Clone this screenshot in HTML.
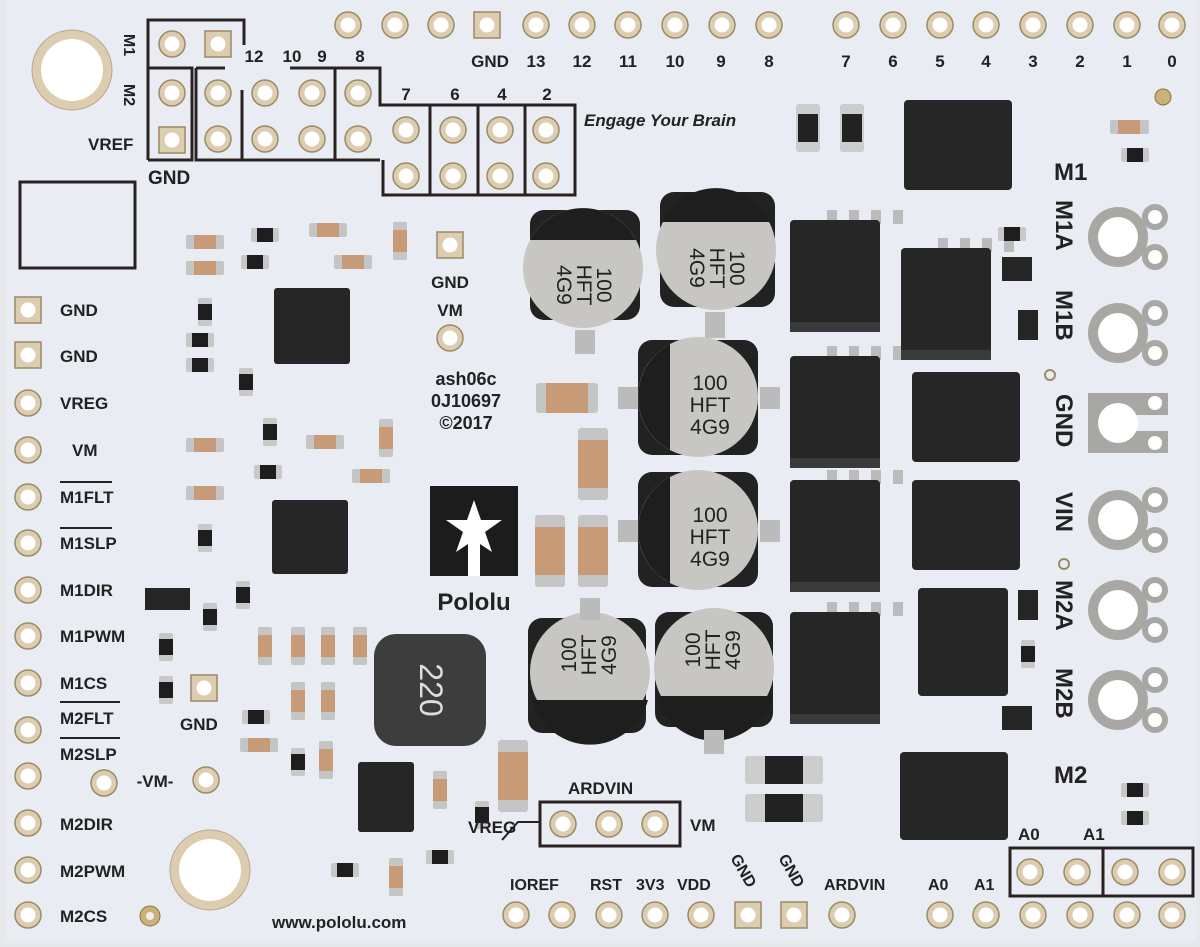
<!DOCTYPE html>
<html><head><meta charset="utf-8"><style>
html,body{margin:0;padding:0;background:#e6e8eb}
svg{display:block}
text{font-family:"Liberation Sans",sans-serif;font-weight:bold;fill:#222}
.ct{font-weight:normal;font-size:21px;text-anchor:middle;fill:#222}
</style></head><body>
<svg width="1200" height="947" viewBox="0 0 1200 947" xmlns="http://www.w3.org/2000/svg">
<defs>
<g id="pin"><circle r="13" fill="#dccdb0" stroke="#9c8a66" stroke-width="1.5"/><circle r="7.5" fill="#fff"/></g>
<g id="spin"><rect x="-13" y="-13" width="26" height="26" fill="#dccdb0" stroke="#9c8a66" stroke-width="1.5"/><circle r="7.5" fill="#fff"/></g>
<g id="cap"><rect x="-4" y="-7" width="38" height="14" rx="2" fill="#c5c5c5"/><rect x="4" y="-7" width="22" height="14" fill="#c79a78"/></g>
<g id="capv"><rect x="-7" y="-4" width="14" height="38" rx="2" fill="#c5c5c5"/><rect x="-7" y="4" width="14" height="22" fill="#c79a78"/></g>
<g id="res"><rect x="-14" y="-7" width="28" height="14" rx="2" fill="#c8c8c8"/><rect x="-8" y="-7" width="16" height="14" fill="#1e1e1e"/></g>
<g id="resv"><rect x="-7" y="-14" width="14" height="28" rx="2" fill="#c8c8c8"/><rect x="-7" y="-8" width="14" height="16" fill="#1e1e1e"/></g>
<g id="term"><circle cx="37" cy="-20" r="13" fill="#a9a7a3"/><circle cx="37" cy="20" r="13" fill="#a9a7a3"/><circle r="30" fill="#a9a7a3"/><circle cx="37" cy="-20" r="7" fill="#fff"/><circle cx="37" cy="20" r="7" fill="#fff"/><circle r="20" fill="#fff"/></g>
<g id="mos"><rect x="-8" y="-62" width="10" height="14" fill="#bbb"/><rect x="14" y="-62" width="10" height="14" fill="#bbb"/><rect x="36" y="-62" width="10" height="14" fill="#bbb"/><rect x="58" y="-62" width="10" height="14" fill="#bbb"/><rect x="-45" y="-52" width="90" height="108" rx="4" fill="#262626"/><rect x="-45" y="50" width="90" height="10" fill="#3a3a3a"/></g>
</defs>
<rect width="1200" height="947" fill="#e6e8eb"/>
<rect x="6" y="0" width="1190" height="940" fill="#e9edf3"/>

<circle cx="72" cy="70" r="40" fill="#dccdb0" stroke="#b8a88a"/><circle cx="72" cy="70" r="31" fill="#fff"/>
<circle cx="210" cy="870" r="40" fill="#dccdb0" stroke="#b8a88a"/><circle cx="210" cy="870" r="31" fill="#fff"/>

<g fill="none" stroke="#2a2222" stroke-width="3">
<path d="M148 160 V20 H244 V45"/>
<path d="M148 68 H192 V160 H148"/>
<path d="M196 68 H225 M196 68 V160 H380 M242 90 V160 M290 68 H380 V105 H575 V195 H383 V160 M335 68 V160"/>
<path d="M430 105 V195 M478 105 V195 M525 105 V195"/>
<rect x="20" y="182" width="115" height="86"/>
</g>
<g font-size="16"><text x="130" y="45" transform="rotate(90 130 45)" text-anchor="middle" dy="6">M1</text><text x="130" y="95" transform="rotate(90 130 95)" text-anchor="middle" dy="6">M2</text></g>
<text x="88" y="150" font-size="17">VREF</text>
<text x="148" y="184" font-size="19">GND</text>
<g font-size="17" text-anchor="middle"><text x="254" y="62">12</text><text x="292" y="62">10</text><text x="322" y="62">9</text><text x="360" y="62">8</text><text x="406" y="100">7</text><text x="455" y="100">6</text><text x="502" y="100">4</text><text x="547" y="100">2</text></g>
<text x="584" y="126" font-size="17" font-style="italic">Engage Your Brain</text>
<use href="#pin" x="172" y="44"/><use href="#spin" x="218" y="44"/>
<use href="#pin" x="172" y="93"/><use href="#spin" x="172" y="140"/>
<use href="#pin" x="218" y="93"/><use href="#pin" x="218" y="139"/>
<use href="#pin" x="265" y="93"/><use href="#pin" x="265" y="139"/>
<use href="#pin" x="312" y="93"/><use href="#pin" x="312" y="139"/>
<use href="#pin" x="358" y="93"/><use href="#pin" x="358" y="139"/>
<use href="#pin" x="406" y="130"/><use href="#pin" x="406" y="176"/>
<use href="#pin" x="453" y="130"/><use href="#pin" x="453" y="176"/>
<use href="#pin" x="500" y="130"/><use href="#pin" x="500" y="176"/>
<use href="#pin" x="546" y="130"/><use href="#pin" x="546" y="176"/>

<g>
<use href="#pin" x="348" y="25"/><use href="#pin" x="395" y="25"/><use href="#pin" x="441" y="25"/><use href="#spin" x="487" y="25"/><use href="#pin" x="536" y="25"/><use href="#pin" x="582" y="25"/><use href="#pin" x="628" y="25"/><use href="#pin" x="675" y="25"/><use href="#pin" x="722" y="25"/><use href="#pin" x="769" y="25"/>
<use href="#pin" x="846" y="25"/><use href="#pin" x="893" y="25"/><use href="#pin" x="940" y="25"/><use href="#pin" x="986" y="25"/><use href="#pin" x="1033" y="25"/><use href="#pin" x="1080" y="25"/><use href="#pin" x="1127" y="25"/><use href="#pin" x="1172" y="25"/>
</g>
<g font-size="17" text-anchor="middle"><text x="490" y="67">GND</text><text x="536" y="67">13</text><text x="582" y="67">12</text><text x="628" y="67">11</text><text x="675" y="67">10</text><text x="721" y="67">9</text><text x="769" y="67">8</text>
<text x="846" y="67">7</text><text x="893" y="67">6</text><text x="940" y="67">5</text><text x="986" y="67">4</text><text x="1033" y="67">3</text><text x="1080" y="67">2</text><text x="1127" y="67">1</text><text x="1172" y="67">0</text></g>

<use href="#spin" x="28" y="310"/><use href="#spin" x="28" y="355"/>
<use href="#pin" x="28" y="403"/><use href="#pin" x="28" y="450"/><use href="#pin" x="28" y="497"/><use href="#pin" x="28" y="543"/><use href="#pin" x="28" y="590"/><use href="#pin" x="28" y="636"/><use href="#pin" x="28" y="683"/><use href="#pin" x="28" y="730"/><use href="#pin" x="28" y="776"/><use href="#pin" x="28" y="823"/><use href="#pin" x="28" y="870"/><use href="#pin" x="28" y="915"/>
<g font-size="17"><text x="60" y="316">GND</text><text x="60" y="362">GND</text><text x="60" y="409">VREG</text><text x="72" y="456">VM</text><text x="60" y="503">M1FLT</text><text x="60" y="549">M1SLP</text><text x="60" y="596">M1DIR</text><text x="60" y="642">M1PWM</text><text x="60" y="689">M1CS</text><text x="60" y="724">M2FLT</text><text x="60" y="760">M2SLP</text><text x="60" y="830">M2DIR</text><text x="60" y="877">M2PWM</text><text x="60" y="922">M2CS</text></g>
<g stroke="#222" stroke-width="2"><line x1="60" y1="482" x2="112" y2="482"/><line x1="60" y1="528" x2="112" y2="528"/><line x1="60" y1="702" x2="120" y2="702"/><line x1="60" y1="738" x2="120" y2="738"/></g>
<circle cx="150" cy="916" r="10" fill="#c9b27a" stroke="#8a7340"/><circle cx="150" cy="916" r="4" fill="#eee"/>

<use href="#pin" x="104" y="783"/><use href="#pin" x="206" y="780"/>
<text x="155" y="787" font-size="17" text-anchor="middle">-VM-</text>
<use href="#spin" x="204" y="688"/><text x="180" y="730" font-size="17">GND</text>

<rect x="274" y="288" width="76" height="76" rx="3" fill="#262626"/>
<rect x="272" y="500" width="76" height="74" rx="3" fill="#262626"/>
<rect x="358" y="762" width="56" height="70" rx="3" fill="#262626"/>
<g>
<use href="#cap" x="190" y="242"/><use href="#cap" x="190" y="268"/><use href="#res" x="265" y="235"/><use href="#cap" x="313" y="230"/><use href="#res" x="255" y="262"/><use href="#cap" x="338" y="262"/><use href="#capv" x="400" y="226"/>
<use href="#resv" x="205" y="312"/><use href="#res" x="200" y="340"/><use href="#res" x="200" y="365"/><use href="#resv" x="246" y="382"/><use href="#cap" x="190" y="445"/><use href="#cap" x="310" y="442"/><use href="#capv" x="386" y="423"/><use href="#resv" x="270" y="432"/><use href="#res" x="268" y="472"/><use href="#cap" x="356" y="476"/><use href="#cap" x="190" y="493"/><use href="#resv" x="205" y="538"/><use href="#resv" x="243" y="595"/><use href="#resv" x="210" y="617"/><use href="#resv" x="166" y="647"/><use href="#resv" x="166" y="690"/>
<rect x="145" y="588" width="45" height="22" fill="#262626"/>
<use href="#capv" x="265" y="631"/><use href="#capv" x="298" y="631"/><use href="#capv" x="328" y="631"/><use href="#capv" x="360" y="631"/><use href="#capv" x="298" y="686"/><use href="#capv" x="328" y="686"/>
<use href="#res" x="256" y="717"/><use href="#cap" x="244" y="745"/><use href="#resv" x="298" y="762"/><use href="#capv" x="326" y="745"/><use href="#capv" x="440" y="775"/><use href="#resv" x="482" y="815"/><use href="#res" x="345" y="870"/><use href="#res" x="440" y="857"/><use href="#capv" x="396" y="862"/>
<rect x="498" y="740" width="30" height="72" rx="3" fill="#c5c5c5"/><rect x="498" y="752" width="30" height="48" fill="#c79a78"/>
<rect x="536" y="383" width="62" height="30" rx="3" fill="#c5c5c5"/><rect x="546" y="383" width="42" height="30" fill="#c79a78"/>
<rect x="578" y="428" width="30" height="72" rx="3" fill="#c5c5c5"/><rect x="578" y="440" width="30" height="48" fill="#c79a78"/>
<rect x="535" y="515" width="30" height="72" rx="3" fill="#c5c5c5"/><rect x="535" y="527" width="30" height="48" fill="#c79a78"/>
<rect x="578" y="515" width="30" height="72" rx="3" fill="#c5c5c5"/><rect x="578" y="527" width="30" height="48" fill="#c79a78"/>
</g>

<rect x="374" y="634" width="112" height="112" rx="22" fill="#3d3d3d"/>
<text x="430" y="700" font-size="32" text-anchor="middle" transform="rotate(90 430 690)" style="fill:#ddd;font-weight:normal">220</text>

<use href="#spin" x="450" y="245"/><text x="450" y="288" font-size="17" text-anchor="middle">GND</text>
<text x="450" y="316" font-size="17" text-anchor="middle">VM</text><use href="#pin" x="450" y="338"/>
<g font-size="18" text-anchor="middle"><text x="466" y="385">ash06c</text><text x="466" y="407">0J10697</text><text x="466" y="429">©2017</text></g>

<rect x="430" y="486" width="88" height="90" fill="#1c1c1c"/>
<polygon points="474,500 481,520 502,520 485,532 492,552 474,540 456,552 463,532 446,520 467,520" fill="#fff"/>
<rect x="468" y="540" width="12" height="36" fill="#fff"/>
<text x="474" y="610" font-size="24" text-anchor="middle">Pololu</text>

<g>
<rect x="530" y="210" width="110" height="110" rx="14" fill="#222"/><circle cx="583" cy="268" r="60" fill="#c8c6c2"/><path d="M530 240 A60 60 0 0 1 636 240 Z" fill="#1e1e1e"/><rect x="575" y="330" width="20" height="24" fill="#bbb"/>
<g transform="translate(585 285) rotate(90)"><text class="ct" y="-12">100</text><text class="ct" y="8">HFT</text><text class="ct" y="28">4G9</text></g>
<rect x="660" y="192" width="115" height="115" rx="14" fill="#222"/><circle cx="716" cy="250" r="60" fill="#c8c6c2"/><path d="M662 222 A60 60 0 0 1 770 222 Z" fill="#1e1e1e"/><rect x="705" y="312" width="20" height="26" fill="#bbb"/>
<g transform="translate(718 268) rotate(90)"><text class="ct" y="-12">100</text><text class="ct" y="8">HFT</text><text class="ct" y="28">4G9</text></g>
<rect x="638" y="340" width="120" height="115" rx="14" fill="#222"/><circle cx="698" cy="397" r="60" fill="#c8c6c2"/><path d="M670 344 A60 60 0 0 0 670 450 Z" fill="#1e1e1e"/><rect x="760" y="387" width="20" height="22" fill="#bbb"/><rect x="618" y="387" width="20" height="22" fill="#bbb"/>
<text x="710" y="390" class="ct">100</text><text x="710" y="412" class="ct">HFT</text><text x="710" y="434" class="ct">4G9</text>
<rect x="638" y="472" width="120" height="115" rx="14" fill="#222"/><circle cx="698" cy="530" r="60" fill="#c8c6c2"/><path d="M670 477 A60 60 0 0 0 670 583 Z" fill="#1e1e1e"/><rect x="760" y="520" width="20" height="22" fill="#bbb"/><rect x="618" y="520" width="20" height="22" fill="#bbb"/>
<text x="710" y="522" class="ct">100</text><text x="710" y="544" class="ct">HFT</text><text x="710" y="566" class="ct">4G9</text>
<rect x="528" y="618" width="118" height="115" rx="14" fill="#222"/><circle cx="590" cy="672" r="60" fill="#c8c6c2"/><path d="M532 700 A60 60 0 0 0 648 700 Z" fill="#1e1e1e"/><rect x="580" y="598" width="20" height="22" fill="#bbb"/>
<g transform="translate(588 655) rotate(-90)"><text class="ct" y="-12">100</text><text class="ct" y="8">HFT</text><text class="ct" y="28">4G9</text></g>
<rect x="655" y="612" width="118" height="115" rx="14" fill="#222"/><circle cx="714" cy="668" r="60" fill="#c8c6c2"/><path d="M656 696 A60 60 0 0 0 772 696 Z" fill="#1e1e1e"/><rect x="704" y="730" width="20" height="24" fill="#bbb"/>
<g transform="translate(712 650) rotate(-90)"><text class="ct" y="-12">100</text><text class="ct" y="8">HFT</text><text class="ct" y="28">4G9</text></g>
</g>

<use href="#mos" x="835" y="272"/><use href="#mos" x="835" y="408"/><use href="#mos" x="835" y="532"/><use href="#mos" x="835" y="664"/>
<use href="#mos" x="946" y="300"/>
<rect x="912" y="372" width="108" height="90" rx="4" fill="#262626"/>
<rect x="912" y="480" width="108" height="90" rx="4" fill="#262626"/>
<rect x="918" y="588" width="90" height="108" rx="4" fill="#262626"/>
<rect x="904" y="100" width="108" height="90" rx="4" fill="#262626"/>
<rect x="900" y="752" width="108" height="88" rx="4" fill="#262626"/>
<g>
<rect x="796" y="104" width="24" height="48" rx="3" fill="#ccc"/><rect x="798" y="114" width="20" height="28" fill="#222"/>
<rect x="840" y="104" width="24" height="48" rx="3" fill="#ccc"/><rect x="842" y="114" width="20" height="28" fill="#222"/>
<rect x="745" y="756" width="78" height="28" rx="3" fill="#ccc"/><rect x="765" y="756" width="38" height="28" fill="#222"/>
<rect x="745" y="794" width="78" height="28" rx="3" fill="#ccc"/><rect x="765" y="794" width="38" height="28" fill="#222"/>
<use href="#res" x="1012" y="234"/><rect x="1002" y="257" width="30" height="24" fill="#262626"/><rect x="1018" y="310" width="20" height="30" fill="#262626"/>
<rect x="1018" y="590" width="20" height="30" fill="#262626"/><use href="#resv" x="1028" y="654"/><rect x="1002" y="706" width="30" height="24" fill="#262626"/>
<use href="#res" x="1135" y="127"/><use href="#res" x="1135" y="155"/><use href="#cap" x="1114" y="127"/>
<use href="#res" x="1135" y="790"/><use href="#res" x="1135" y="818"/>
</g>
<circle cx="1163" cy="97" r="8" fill="#c9b27a" stroke="#8a7340"/>
<circle cx="1050" cy="375" r="5" fill="none" stroke="#9c8a66" stroke-width="2"/>
<circle cx="1064" cy="564" r="5" fill="none" stroke="#9c8a66" stroke-width="2"/>

<use href="#term" x="1118" y="237"/><use href="#term" x="1118" y="333"/>
<g transform="translate(1118 423)"><rect x="-30" y="-30" width="80" height="60" fill="#a9a7a3"/><rect x="12" y="-8" width="40" height="16" fill="#e9edf3"/><circle cx="37" cy="-20" r="7" fill="#fff"/><circle cx="37" cy="20" r="7" fill="#fff"/><circle r="20" fill="#fff"/></g>
<use href="#term" x="1118" y="520"/><use href="#term" x="1118" y="610"/><use href="#term" x="1118" y="700"/>
<g font-size="24"><text x="1054" y="180">M1</text><text x="1054" y="783">M2</text>
<text transform="translate(1056 200) rotate(90)">M1A</text><text transform="translate(1056 290) rotate(90)">M1B</text><text transform="translate(1056 394) rotate(90)">GND</text><text transform="translate(1056 492) rotate(90)">VIN</text><text transform="translate(1056 580) rotate(90)">M2A</text><text transform="translate(1056 668) rotate(90)">M2B</text></g>

<rect x="540" y="802" width="140" height="44" fill="none" stroke="#2a2222" stroke-width="3"/>
<use href="#pin" x="563" y="824"/><use href="#pin" x="609" y="824"/><use href="#pin" x="655" y="824"/>
<text x="568" y="794" font-size="17">ARDVIN</text><text x="690" y="831" font-size="17">VM</text>
<text x="468" y="833" font-size="17">VREG</text><path d="M502 840 L518 822 H540" stroke="#222" stroke-width="2" fill="none"/>

<path d="M1010 848 H1193 V896 H1010 Z M1103 848 V896" fill="none" stroke="#2a2222" stroke-width="3"/>
<use href="#pin" x="1030" y="872"/><use href="#pin" x="1077" y="872"/><use href="#pin" x="1125" y="872"/><use href="#pin" x="1172" y="872"/>
<text x="1018" y="840" font-size="17">A0</text><text x="1083" y="840" font-size="17">A1</text>

<use href="#pin" x="516" y="915"/><use href="#pin" x="562" y="915"/><use href="#pin" x="609" y="915"/><use href="#pin" x="655" y="915"/><use href="#pin" x="701" y="915"/><use href="#spin" x="748" y="915"/><use href="#spin" x="794" y="915"/><use href="#pin" x="842" y="915"/><use href="#pin" x="940" y="915"/><use href="#pin" x="986" y="915"/><use href="#pin" x="1033" y="915"/><use href="#pin" x="1080" y="915"/><use href="#pin" x="1127" y="915"/><use href="#pin" x="1172" y="915"/>
<g font-size="16"><text x="510" y="890">IOREF</text><text x="590" y="890">RST</text><text x="636" y="890">3V3</text><text x="677" y="890">VDD</text><text x="824" y="890">ARDVIN</text><text x="928" y="890">A0</text><text x="974" y="890">A1</text>
<text transform="translate(730 858) rotate(60)">GND</text><text transform="translate(778 858) rotate(60)">GND</text></g>
<text x="272" y="928" font-size="17">www.pololu.com</text>
</svg>
</body></html>
